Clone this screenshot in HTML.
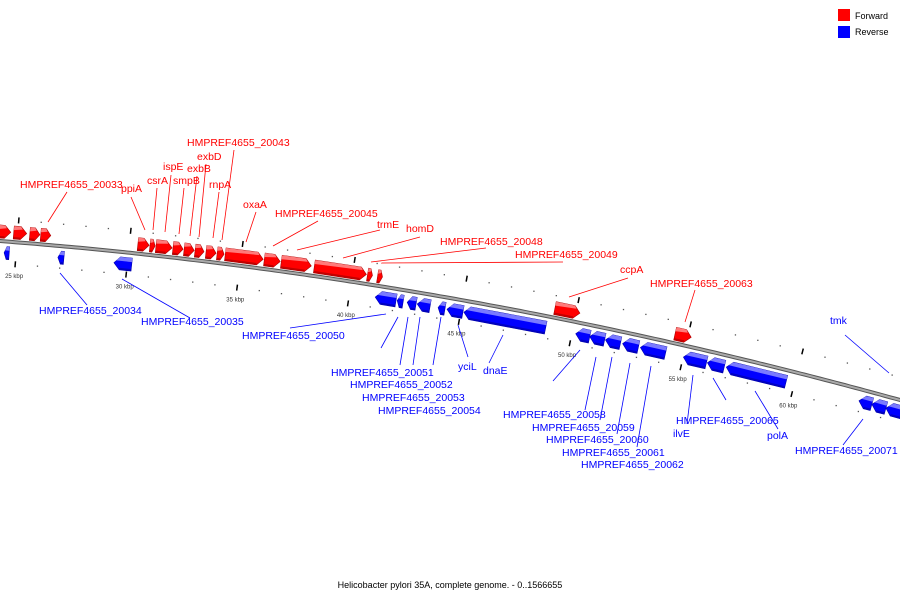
<!DOCTYPE html>
<html><head><meta charset="utf-8">
<style>
html,body{margin:0;padding:0;background:#fff;}
svg{display:block;font-family:"Liberation Sans","DejaVu Sans",sans-serif;}
</style></head>
<body>
<svg id="chart" width="900" height="600" viewBox="0 0 900 600">
<g id="ticks"></g>
<g id="backbone"></g>
<g id="genes"></g>
<g id="labels"></g>
<g>
  <rect x="838" y="9" width="12" height="12" fill="#f00"/>
  <text x="855" y="19" font-size="9" fill="#000">Forward</text>
  <rect x="838" y="26" width="12" height="12" fill="#00f"/>
  <text x="855" y="35" font-size="9" fill="#000">Reverse</text>
</g>
<text x="450" y="588" font-size="9" text-anchor="middle" fill="#000">Helicobacter pylori 35A, complete genome. - 0..1566655</text>
</svg>
<script>
const fwdStart=[24.15,24.82,25.54,26.03,30.38,30.92,31.19,31.95,32.45,32.94,33.43,33.93,34.29,36.04,36.80,38.28,40.66,41.11,49.05,54.43];
const fwdEnd  =[24.69,25.40,25.99,26.48,30.88,31.15,31.91,32.40,32.90,33.34,33.88,34.24,35.99,36.75,38.14,40.61,40.88,41.33,50.17,55.15];
const revStart=[24.46,26.88,29.40,41.15,42.14,42.59,43.04,43.98,44.38,45.14,50.17,50.80,51.51,52.28,53.08,55.01,56.09,56.94,62.91,63.49,64.12];
const revEnd  =[24.69,27.15,30.20,42.09,42.41,42.99,43.62,44.29,45.10,48.82,50.80,51.47,52.18,52.99,54.21,56.05,56.85,59.63,63.49,64.12,64.84];
const kbpTicks=[25,30,35,40,45,50,55,60];

const NS="http://www.w3.org/2000/svg";
function X(k){return 17+(k-25)*22.29;}
function Y(x){return 241+0.0767*x+1.111e-4*x*x;}
function ang(x){return Math.atan(0.0767+2*1.111e-4*x);}
function P(k,off){const x=X(k),t=ang(x);return [x-off*Math.sin(t),Y(x)+off*Math.cos(t)];}
function mk(tag,attrs,parent){const e=document.createElementNS(NS,tag);for(const a in attrs)e.setAttribute(a,attrs[a]);parent.appendChild(e);return e;}
function pts(a){return a.map(p=>p[0].toFixed(1)+","+p[1].toFixed(1)).join(" ");}

// backbone
const bb=document.getElementById('backbone');
let d="";for(let x=-5;x<=905;x+=5){d+=(x==-5?"M":"L")+x+","+Y(x).toFixed(1);}
const bl1=mk('path',{d:d,stroke:'#555',"stroke-width":4,fill:'none'},bb);


const bl2=mk('path',{d:d,stroke:'#aaa',"stroke-width":2,fill:'none'},bb);



// ticks
const tg=document.getElementById('ticks');
for(let k=23;k<=68;k++){
  for(const off of [-22,22]){
    if(k%5===0){
      const a=P(k,off-3),b=P(k,off+3);
      const l=mk('line',{x1:a[0],y1:a[1],x2:b[0],y2:b[1],stroke:'#000',"stroke-width":1.5},tg);
      
      
    }else{
      const c=P(k,off);
      const r=mk('rect',{x:c[0]-0.6,y:c[1]-0.6,width:1.3,height:1.3,fill:'#555'},tg);
      
      
    }
  }
}
kbpTicks.forEach(k=>{
  const c=P(k,36);
  const t=mk('text',{x:c[0],y:c[1],"font-size":6,fill:'#333',"text-anchor":'middle'},tg);
  t.textContent=k+" kbp";
  
  
});

// genes
const gg=document.getElementById('genes');
function gene(s,e,fwd){
  const len=X(e)-X(s);
  const head=Math.min(6,len*0.5)/22.29;
  const a=fwd?-16:5, b=fwd?-3:18, m=(a+b)/2;
  let poly;
  if(fwd){poly=[P(s,a),P(e-head,a),P(e,m),P(e-head,b),P(s,b)];}
  else{poly=[P(s,m),P(s+head,a),P(e,a),P(e,b),P(s+head,b)];}
  const col=fwd?'#f00':'#00f', dark=fwd?'#a00':'#00a', light=fwd?'#f99':'#99f';
  const g=mk('g',{},gg);
  
  
  mk('polygon',{points:pts(poly),fill:col,stroke:dark,"stroke-width":0.6},g);
  // light top band
  const t2=a+4;
  let band;
  if(fwd){band=[P(s,a),P(e-head,a),P(e-head*0.7,a+4*0.7),P(s,t2)];}
  else{band=[P(s+head,a),P(e,a),P(e,t2),P(s+head*0.3,t2)];}
  mk('polygon',{points:pts(band),fill:light,opacity:0.8},g);
  // dark bottom edge
  const bb2=[P(fwd?s:s+head,b-2),P(fwd?e-head:e,b-2),P(fwd?e-head:e,b),P(fwd?s:s+head,b)];
  mk('polygon',{points:pts(bb2),fill:dark,opacity:0.7},g);
}
fwdStart.forEach((s,i)=>gene(s,fwdEnd[i],true));
revStart.forEach((s,i)=>gene(s,revEnd[i],false));

// labels
const lg=document.getElementById('labels');
const red=[
["HMPREF4655_20033",20,188,67,192,48,222],["ppiA",121,192,131,197,145,230],["csrA",147,184,157,188,153,230],
["ispE",163,170,171,175,165,232],["smpB",173,184,184,188,179,234],["exbB",187,172,197,176,190,236],
["exbD",197,160,206,164,199,237],["HMPREF4655_20043",187,146,234,150,222,240],["rnpA",209,188,219,192,213,238],
["oxaA",243,208,256,212,246,242],["HMPREF4655_20045",275,217,318,221,273,246],["trmE",377,228,380,230,297,250],
["homD",406,232,420,237,343,258],["HMPREF4655_20048",440,245,486,248,371,262],["HMPREF4655_20049",515,258,563,262,381,263],
["ccpA",620,273,628,278,569,297],["HMPREF4655_20063",650,287,695,290,685,322]];
const blue=[
["HMPREF4655_20034",39,314,87,305,60,273],["HMPREF4655_20035",141,325,190,318,122,279],["HMPREF4655_20050",242,339,290,328,386,314],
["HMPREF4655_20051",331,376,381,348,398,317],["HMPREF4655_20052",350,388,400,365,408,317],["HMPREF4655_20053",362,401,413,365,420,317],
["HMPREF4655_20054",378,414,433,365,441,317],["yciL",458,370,468,357,458,325],["dnaE",483,374,489,363,503,335],
["HMPREF4655_20058",503,418,553,381,580,350],["HMPREF4655_20059",532,431,585,410,596,357],["HMPREF4655_20060",546,443,600,420,612,357],
["HMPREF4655_20061",562,456,617,434,630,363],["HMPREF4655_20062",581,468,637,447,651,366],["ilvE",673,437,687,424,693,375],
["HMPREF4655_20065",676,424,726,400,713,378],["polA",767,439,778,429,755,391],["HMPREF4655_20071",795,454,843,445,863,419],
["tmk",830,324,845,335,889,373]];
function lab(arr,col){
  arr.forEach(r=>{
    const l=mk('line',{x1:r[3],y1:r[4],x2:r[5],y2:r[6],stroke:col,"stroke-width":0.8},lg);
    
    
    const t=mk('text',{x:r[1],y:r[2],"font-size":10.5,fill:col},lg);
    t.textContent=r[0];
    
    
  });
}
lab(red,'#f00');lab(blue,'#00f');
</script>
</body></html>
